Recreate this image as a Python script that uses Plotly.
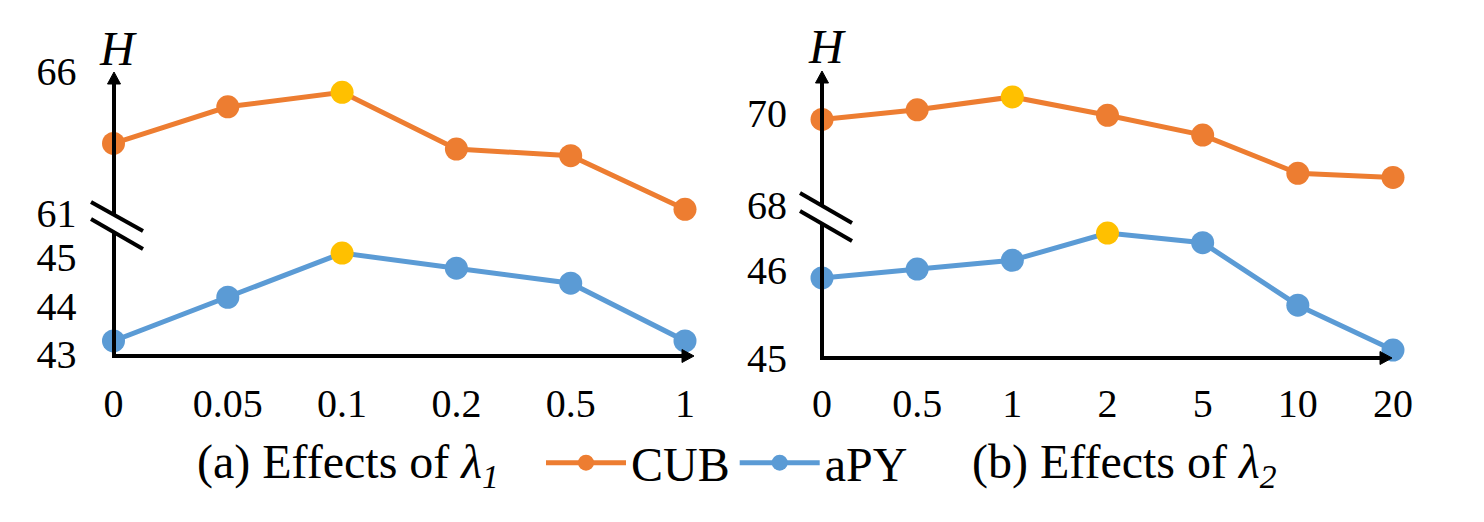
import plotly.graph_objects as go
import numpy as np

# ---------------- data ----------------
lam1_labels = ["0", "0.05", "0.1", "0.2", "0.5", "1"]
lam2_labels = ["0", "0.5", "1", "2", "5", "10", "20"]

cub_lam1 = [63.45, 64.74, 65.25, 63.25, 63.02, 61.13]
apy_lam1 = [43.27, 44.17, 45.08, 44.77, 44.46, 43.27]

cub_lam2 = [69.86, 70.07, 70.35, 69.95, 69.52, 68.69, 68.60]
apy_lam2 = [45.91, 46.01, 46.11, 46.42, 46.31, 45.60, 45.09]

# y tick values per axis segment
ticks_l_up = [61, 66]
ticks_l_lo = [43, 44, 45]
ticks_r_up = [68, 70]
ticks_r_lo = [45, 46]

# ---------------- style ----------------
W, H = 1484, 522
ORANGE = "#ED7D31"
BLUE = "#5B9BD5"
GOLD = "#FFC000"
FONT = "Liberation Serif"
TICK_SIZE = 40
CAP_SIZE = 48


def px(x):
    return x / W


def py(y):
    return 1 - y / H


def seg_axis(ticks, tick_px, bottom_px, top_px):
    """Domain + range for an axis segment spanning bottom_px..top_px (pixel rows),
    calibrated so that ticks[0] sits at tick_px[0] and ticks[-1] at tick_px[1]."""
    v0, v1 = ticks[0], ticks[-1]
    p0, p1 = tick_px
    k = (v1 - v0) / (p0 - p1)
    lo = v0 - (bottom_px - p0) * k
    hi = v1 + (p1 - top_px) * k
    return dict(domain=[py(bottom_px), py(top_px)], range=[lo, hi], tickvals=ticks)


def colors_for(vals, base):
    i = int(np.argmax(vals))
    return [GOLD if k == i else base for k in range(len(vals))]


fig = go.Figure()


def add_series(x, vals, color, name, xa, ya, showlegend):
    fig.add_trace(go.Scatter(
        x=x, y=vals, mode="lines+markers", name=name,
        line=dict(color=color, width=5),
        marker=dict(size=23, color=colors_for(vals, color)),
        xaxis=xa, yaxis=ya, cliponaxis=False, showlegend=showlegend,
        legendgroup=name,
    ))


x1 = list(range(len(lam1_labels)))
x2 = list(range(len(lam2_labels)))

add_series(x1, cub_lam1, ORANGE, "CUB", "x", "y", True)
add_series(x1, apy_lam1, BLUE, "aPY", "x", "y2", True)
add_series(x2, cub_lam2, ORANGE, "CUB", "x2", "y3", False)
add_series(x2, apy_lam2, BLUE, "aPY", "x2", "y4", False)

tickfont = dict(family=FONT, size=TICK_SIZE, color="black")
common_ax = dict(showgrid=False, zeroline=False, showline=False, ticks="",
                 tickfont=tickfont, fixedrange=True, automargin=False)

fig.update_layout(
    width=W, height=H,
    margin=dict(l=0, r=0, t=0, b=0, autoexpand=False),
    paper_bgcolor="white", plot_bgcolor="rgba(0,0,0,0)",
    xaxis=dict(domain=[px(113.5), px(685)], range=[0, len(lam1_labels) - 1],
               anchor="y2", tickvals=x1, ticktext=lam1_labels,
               ticklabelstandoff=20, **common_ax),
    yaxis=dict(anchor="x", ticklabelstandoff=36,
               **seg_axis(ticks_l_up, (213, 71), 214, 71), **common_ax),
    yaxis2=dict(anchor="x", ticklabelstandoff=36,
                **seg_axis(ticks_l_lo, (354, 257), 356, 231), **common_ax),
    xaxis2=dict(domain=[px(822), px(1393)], range=[0, len(lam2_labels) - 1],
                anchor="y4", tickvals=x2, ticktext=lam2_labels,
                ticklabelstandoff=18, **common_ax),
    yaxis3=dict(anchor="x2", ticklabelstandoff=34,
                **seg_axis(ticks_r_up, (205, 113), 206, 72), **common_ax),
    yaxis4=dict(anchor="x2", ticklabelstandoff=34,
                **seg_axis(ticks_r_lo, (358, 270), 358, 224), **common_ax),
    legend=dict(orientation="h", x=px(541), xanchor="left", y=py(463),
                yanchor="middle", font=dict(family=FONT, size=CAP_SIZE, color="black"),
                itemwidth=80, bgcolor="rgba(0,0,0,0)"),
    showlegend=True,
)

shapes = []
annotations = []


def seg(x0, y0, x1_, y1_, w=4):
    shapes.append(dict(type="line", xref="paper", yref="paper",
                       x0=px(x0), y0=py(y0), x1=px(x1_), y1=py(y1_),
                       line=dict(color="black", width=w)))


def head(xt, yt, direction):
    """small filled arrowhead (triangle) with its tip at pixel (xt, yt)."""
    L, hw = 12, 6.5
    if direction == "up":
        pts = [(xt, yt), (xt - hw, yt + L), (xt + hw, yt + L)]
    else:  # right
        pts = [(xt, yt), (xt - L, yt - hw), (xt - L, yt + hw)]
    path = "M {} {} L {} {} L {} {} Z".format(*[v for p in pts for v in (px(p[0]), py(p[1]))])
    shapes.append(dict(type="path", xref="paper", yref="paper", path=path,
                       fillcolor="black", line=dict(color="black", width=1)))


# left panel axes
seg(114, 80, 114, 214)            # upper y segment
head(114, 72, "up")
seg(114, 231, 114, 356)           # lower y segment
seg(112, 356, 686, 356)           # x axis
head(694, 356, "right")
seg(91, 202, 143, 231)            # break marks
seg(91, 219, 143, 249)

# right panel axes
seg(822, 79, 822, 206)
head(822, 71, "up")
seg(822, 224, 822, 360)
seg(820, 358, 1384, 358)
head(1392, 358, "right")
seg(800, 193, 852, 223)
seg(800, 211, 852, 241)

# H labels
for hx, hy in [(118, 48), (827, 47)]:
    annotations.append(dict(xref="paper", yref="paper", x=px(hx), y=py(hy),
                            text="<i>H</i>", showarrow=False,
                            font=dict(family=FONT, size=CAP_SIZE, color="black"),
                            xanchor="center", yanchor="middle"))

# captions
for cx, txt in [(195, "(a) Effects of <i>λ<sub>1</sub></i>"),
                (970, "(b) Effects of <i>λ<sub>2</sub></i>")]:
    annotations.append(dict(xref="paper", yref="paper", x=px(cx), y=py(465),
                            text=txt, showarrow=False,
                            font=dict(family=FONT, size=CAP_SIZE, color="black"),
                            xanchor="left", yanchor="middle"))

fig.update_layout(shapes=shapes, annotations=annotations)

fig.write_html("out.html", config={"displayModeBar": False},
               post_script="document.body.style.margin='0';document.body.style.overflow='hidden';")
